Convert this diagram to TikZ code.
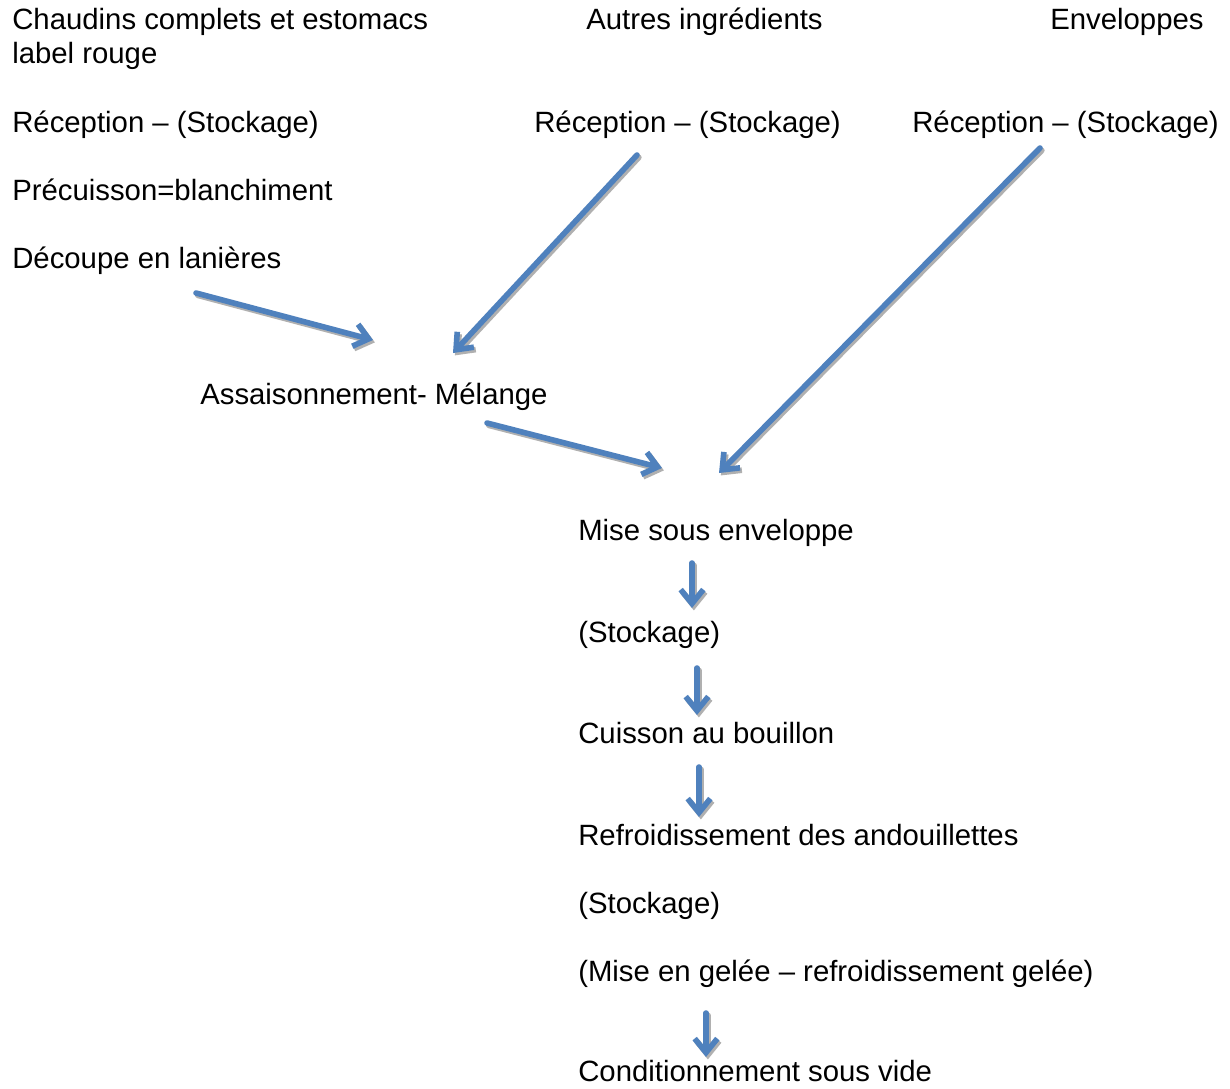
\documentclass[tikz,border=0pt]{standalone}
\usepackage{fontspec}
\setmainfont{Liberation Sans}
\usetikzlibrary{arrows.meta,positioning}
\definecolor{flowblue}{HTML}{4F81BD}
\definecolor{shade}{HTML}{B0B0B0}
\definecolor{ink}{HTML}{000000}
\definecolor{paper}{HTML}{FFFFFF}

\begin{document}
\begin{tikzpicture}[
  x=0.75pt, y=-0.75pt,
  %===========================================================
  % Process steps (plain text, no frame)
  %===========================================================
  stage/.style={
    anchor=base west,
    inner sep=0pt,
    align=left,
    text=ink,
    font=\fontsize{22pt}{25.5pt}\selectfont
  },
  %===========================================================
  % Flow arrows, and the small grey shadow drawn under them
  %===========================================================
  flow/.style={
    -{Straight Barb[length=10.5pt,width=17pt]},
    draw=flowblue,
    line width=4.2pt,
    line cap=round,
    line join=round
  },
  flowshadow/.style={
    flow,
    draw=shade,
    transform canvas={shift={(1.4pt,-1.8pt)}}
  }
]
  \path[use as bounding box, fill=paper] (0,0) rectangle (1230,1088);

  %====================================================================
  % Three raw material columns
  %====================================================================
  \node[stage] (chaud)  at (12,64)   {Chaudins complets et estomacs\\label rouge};
  \node[stage] (autres) at (586,30)  {Autres ingrédients};
  \node[stage] (envel)  at (1050,30) {Enveloppes};

  \node[stage] (recepA) at (12,132)  {Réception – (Stockage)};
  \node[stage] (recepB) at (534,132) {Réception – (Stockage)};
  \node[stage] (recepC) at (912,132) {Réception – (Stockage)};

  \node[stage] (precuit) at (12,200) {Précuisson=blanchiment};
  \node[stage] (decoupe) at (12,268) {Découpe en lanières};

  \node[stage] (assais) at (200,404) {Assaisonnement- Mélange};

  %====================================================================
  % Main line, top to bottom
  %====================================================================
  \node[stage] (mise)    at (578,540)  {Mise sous enveloppe};
  \node[stage] (stockA)  at (578,642)  {(Stockage)};
  \node[stage] (cuisson) at (578,743)  {Cuisson au bouillon};
  \node[stage] (refroid) at (578,845)  {Refroidissement des andouillettes};
  \node[stage] (stockB)  at (578,913)  {(Stockage)};
  \node[stage] (gelee)   at (578,981)  {(Mise en gelée – refroidissement gelée)};
  \node[stage] (cond)    at (578,1081) {Conditionnement sous vide};

  %====================================================================
  % Arrow ends, placed against the texts they join
  %====================================================================
  \coordinate (decoupe-out) at ([shift={(184,25)}]decoupe.base west);
  \coordinate (recepB-out)  at ([shift={(103,23)}]recepB.base west);
  \coordinate (recepC-out)  at ([shift={(128,16)}]recepC.base west);
  \coordinate (assais-in1)  at ([shift={(173,-64)}]assais.base west);
  \coordinate (assais-in2)  at ([shift={(253,-51)}]assais.base west);
  \coordinate (assais-out)  at ([shift={(287,19)}]assais.base west);
  \coordinate (mise-in1)    at ([shift={(84,-72)}]mise.base west);
  \coordinate (mise-in2)    at ([shift={(141,-67)}]mise.base west);
  \coordinate (mise-out)    at ([shift={(114,23)}]mise.base west);
  \coordinate (stockA-in)   at ([shift={(114,-34)}]stockA.base west);
  \coordinate (stockA-out)  at ([shift={(119,26)}]stockA.base west);
  \coordinate (cuisson-in)  at ([shift={(119,-28)}]cuisson.base west);
  \coordinate (cuisson-out) at ([shift={(121,24)}]cuisson.base west);
  \coordinate (refroid-in)  at ([shift={(121,-28)}]refroid.base west);
  \coordinate (gelee-out)   at ([shift={(128,32)}]gelee.base west);
  \coordinate (cond-in)     at ([shift={(128,-24)}]cond.base west);

  %====================================================================
  % Arrows: shadow first, then the blue stroke on top
  %====================================================================
  \foreach \from/\to in {decoupe-out/assais-in1, recepB-out/assais-in2,
                         recepC-out/mise-in2, assais-out/mise-in1,
                         mise-out/stockA-in, stockA-out/cuisson-in,
                         cuisson-out/refroid-in, gelee-out/cond-in}
  {
    \draw[flowshadow] (\from) -- (\to);
    \draw[flow]       (\from) -- (\to);
  }

\end{tikzpicture}
\end{document}
